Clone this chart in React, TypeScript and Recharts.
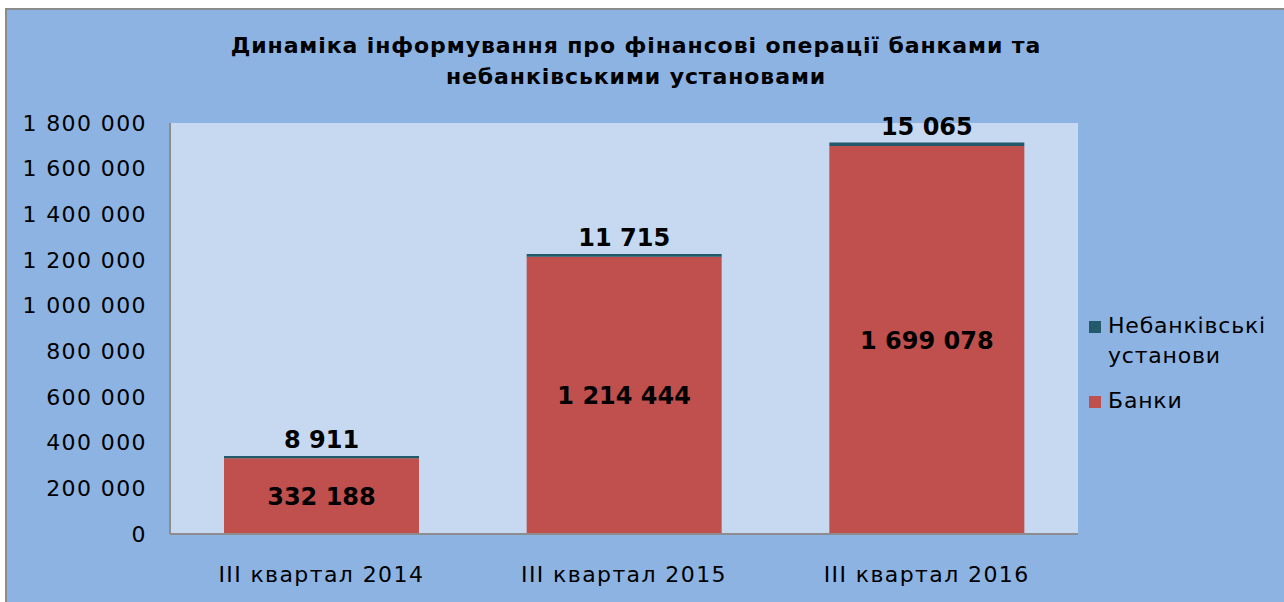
import React from 'react'
import { BarChart, Bar, XAxis, YAxis, CartesianGrid, LabelList } from 'recharts'

const categories = ['III квартал 2014', 'III квартал 2015', 'III квартал 2016']
const banks = [332188, 1214444, 1699078]
const nonBanks = [8911, 11715, 15065]
const yTicks = [0, 200000, 400000, 600000, 800000, 1000000, 1200000, 1400000, 1600000, 1800000]

const BANK_COLOR = '#C0504D'
const NONBANK_COLOR = '#235A6A'
const FONT = '"DejaVu Sans", Verdana, sans-serif'

const data = categories.map((name, i) => ({
  name,
  banks: banks[i],
  nonBanks: nonBanks[i],
}))

const fmt = (v: number | string) => String(v).replace(/\B(?=(\d{3})+(?!\d))/g, ' ')

const legendItems = [
  { color: NONBANK_COLOR, lines: ['Небанківські', 'установи'] },
  { color: BANK_COLOR, lines: ['Банки'] },
]

export default function App() {
  return (
    <div style={{ position: 'absolute', left: 0, top: 0, width: 1284, height: 602, overflow: 'hidden', background: '#fff' }}>
      <div
        style={{
          position: 'absolute',
          left: 5,
          top: 8,
          width: 1300,
          height: 620,
          background: '#8DB3E2',
          border: '2px solid #8C8C8C',
        }}
      />
      <div
        style={{
          position: 'absolute',
          left: 0,
          top: 30,
          width: 1272,
          textAlign: 'center',
          fontFamily: FONT,
          fontWeight: 'bold',
          fontSize: 22,
          letterSpacing: 0.9,
          lineHeight: '31px',
          color: '#000',
        }}
      >
        Динаміка інформування про фінансові операції банками та
        <br />
        небанківськими установами
      </div>
      <div style={{ position: 'absolute', left: 0, top: 0 }}>
        <BarChart
          width={1284}
          height={602}
          data={data}
          margin={{ top: 123, right: 206, bottom: 0, left: 0 }}
          barSize={195}
        >
          <CartesianGrid horizontal={false} vertical={false} fill="#C6D9F1" />
          <XAxis
            dataKey="name"
            tickLine={false}
            axisLine={{ stroke: '#8C8C8C', strokeWidth: 2 }}
            tick={{ fill: '#000', fontSize: 22, fontFamily: FONT, letterSpacing: 1.4 }}
            tickMargin={26}
            height={68}
          />
          <YAxis
            width={170}
            domain={[0, 1800000]}
            ticks={yTicks}
            interval={0}
            tickFormatter={fmt}
            tickLine={false}
            axisLine={{ stroke: '#8C8C8C', strokeWidth: 2 }}
            tick={{ fill: '#000', fontSize: 22, fontFamily: FONT, letterSpacing: 1.4 }}
            tickMargin={17}
          />
          <Bar dataKey="banks" name="Банки" stackId="a" fill={BANK_COLOR} isAnimationActive={false}>
            <LabelList
              dataKey="banks"
              position="center"
              formatter={fmt}
              style={{ fill: '#000', fontSize: 24, fontWeight: 'bold', fontFamily: FONT }}
            />
          </Bar>
          <Bar dataKey="nonBanks" name="Небанківські установи" stackId="a" fill={NONBANK_COLOR} isAnimationActive={false}>
            <LabelList
              dataKey="nonBanks"
              position="top"
              offset={8}
              formatter={fmt}
              style={{ fill: '#000', fontSize: 24, fontWeight: 'bold', fontFamily: FONT }}
            />
          </Bar>
        </BarChart>
      </div>
      <div
        style={{
          position: 'absolute',
          left: 1089,
          top: 311,
          width: 195,
          fontFamily: FONT,
          fontSize: 22,
          letterSpacing: 0.8,
          color: '#000',
          lineHeight: '30px',
        }}
      >
        {legendItems.map((item, i) => (
          <div key={i} style={{ display: 'flex', alignItems: 'flex-start', marginTop: i ? 15 : 0 }}>
            <span style={{ width: 12, height: 12, background: item.color, marginTop: 10, marginRight: 7, flex: 'none' }} />
            <span>
              {item.lines.map((l, j) => (
                <div key={j}>{l}</div>
              ))}
            </span>
          </div>
        ))}
      </div>
    </div>
  )
}
